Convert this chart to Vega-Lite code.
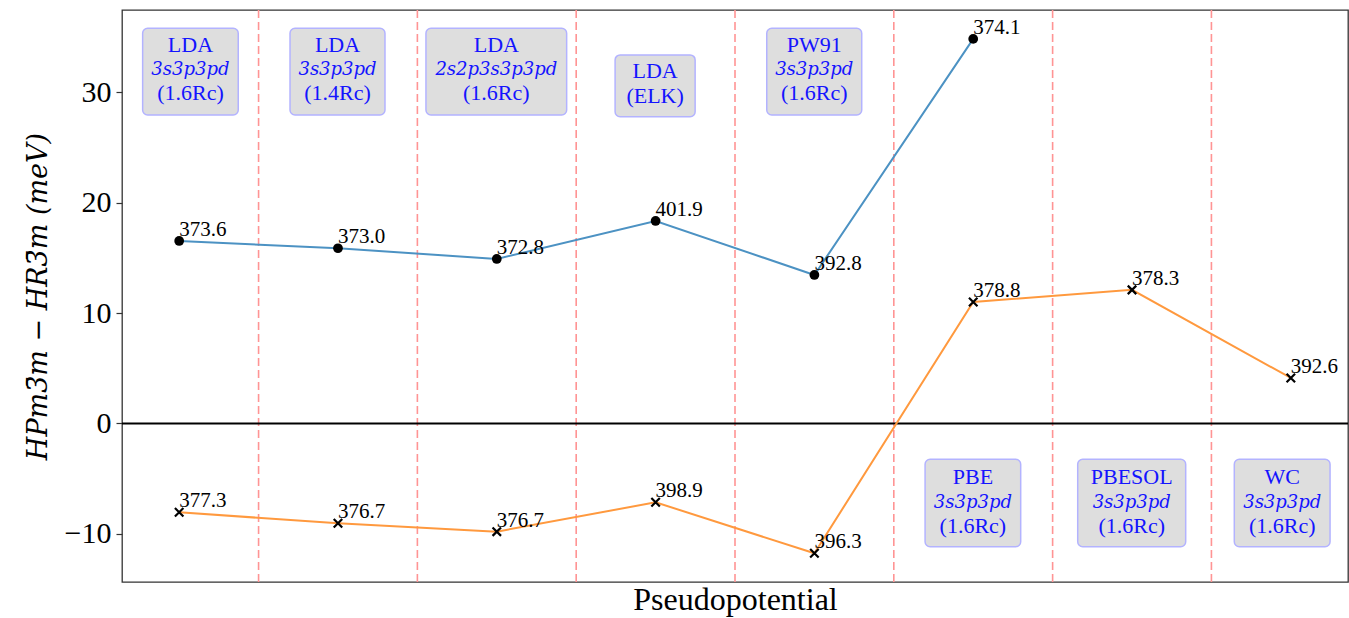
{
  "$schema": "https://vega.github.io/schema/vega-lite/v6.json",
  "width": 1226,
  "height": 572,
  "autosize": {"type": "none"},
  "padding": {"left": 122, "top": 10, "right": 1, "bottom": 36},
  "config": {
    "view": {"stroke": "#333333", "strokeWidth": 1.3},
    "font": "Liberation Serif",
    "axis": {"grid": false}
  },
  "datasets": {
    "pts": [
      {"i": 0, "series": "a", "dh": 16.53, "label": "373.6"},
      {"i": 1, "series": "a", "dh": 15.87, "label": "373.0"},
      {"i": 2, "series": "a", "dh": 14.9, "label": "372.8"},
      {"i": 3, "series": "a", "dh": 18.34, "label": "401.9"},
      {"i": 4, "series": "a", "dh": 13.45, "label": "392.8"},
      {"i": 5, "series": "a", "dh": 34.83, "label": "374.1"},
      {"i": 0, "series": "b", "dh": -8.05, "label": "377.3"},
      {"i": 1, "series": "b", "dh": -9.04, "label": "376.7"},
      {"i": 2, "series": "b", "dh": -9.8, "label": "376.7"},
      {"i": 3, "series": "b", "dh": -7.14, "label": "398.9"},
      {"i": 4, "series": "b", "dh": -11.76, "label": "396.3"},
      {"i": 5, "series": "b", "dh": 11.0, "label": "378.8"},
      {"i": 6, "series": "b", "dh": 12.1, "label": "378.3"},
      {"i": 7, "series": "b", "dh": 4.12, "label": "392.6"}
    ],
    "seps": [{"s": 0.5}, {"s": 1.5}, {"s": 2.5}, {"s": 3.5}, {"s": 4.5}, {"s": 5.5}, {"s": 6.5}],
    "boxes": [
      {"x1": -0.23, "x2": 0.372, "y1": 27.94, "y2": 35.8},
      {"x1": 0.698, "x2": 1.296, "y1": 27.94, "y2": 35.8},
      {"x1": 1.554, "x2": 2.44, "y1": 27.94, "y2": 35.8},
      {"x1": 2.745, "x2": 3.249, "y1": 27.79, "y2": 33.38},
      {"x1": 3.7, "x2": 4.298, "y1": 27.94, "y2": 35.8},
      {"x1": 4.697, "x2": 5.299, "y1": -11.16, "y2": -3.24},
      {"x1": 5.658, "x2": 6.338, "y1": -11.16, "y2": -3.24},
      {"x1": 6.644, "x2": 7.247, "y1": -11.16, "y2": -3.24}
    ],
    "btext": [
      {"x": 0.071, "y": 33.68, "t": "LDA", "it": false},
      {"x": 0.071, "y": 31.57, "t": "3s3p3pd", "it": true},
      {"x": 0.071, "y": 29.3, "t": "(1.6Rc)", "it": false},
      {"x": 0.997, "y": 33.68, "t": "LDA", "it": false},
      {"x": 0.997, "y": 31.57, "t": "3s3p3pd", "it": true},
      {"x": 0.997, "y": 29.3, "t": "(1.4Rc)", "it": false},
      {"x": 1.997, "y": 33.68, "t": "LDA", "it": false},
      {"x": 1.997, "y": 31.57, "t": "2s2p3s3p3pd", "it": true},
      {"x": 1.997, "y": 29.3, "t": "(1.6Rc)", "it": false},
      {"x": 2.997, "y": 31.27, "t": "LDA", "it": false},
      {"x": 2.997, "y": 29.03, "t": "(ELK)", "it": false},
      {"x": 3.999, "y": 33.68, "t": "PW91", "it": false},
      {"x": 3.999, "y": 31.57, "t": "3s3p3pd", "it": true},
      {"x": 3.999, "y": 29.3, "t": "(1.6Rc)", "it": false},
      {"x": 4.998, "y": -5.51, "t": "PBE", "it": false},
      {"x": 4.998, "y": -7.65, "t": "3s3p3pd", "it": true},
      {"x": 4.998, "y": -9.92, "t": "(1.6Rc)", "it": false},
      {"x": 5.998, "y": -5.51, "t": "PBESOL", "it": false},
      {"x": 5.998, "y": -7.65, "t": "3s3p3pd", "it": true},
      {"x": 5.998, "y": -9.92, "t": "(1.6Rc)", "it": false},
      {"x": 6.946, "y": -5.51, "t": "WC", "it": false},
      {"x": 6.946, "y": -7.65, "t": "3s3p3pd", "it": true},
      {"x": 6.946, "y": -9.92, "t": "(1.6Rc)", "it": false}
    ]
  },
  "layer": [
    {
      "data": {"name": "seps"},
      "mark": {"type": "rule", "color": "#ff9494", "strokeWidth": 1.6, "strokeDash": [8, 4]},
      "encoding": {
        "x": {
          "field": "s", "type": "quantitative",
          "scale": {"domain": [-0.36, 7.36], "nice": false, "zero": false},
          "axis": {
            "labels": false, "ticks": false, "domain": false, "grid": false,
            "title": "Pseudopotential", "titleFont": "Liberation Serif", "titleFontSize": 32,
            "titleFontWeight": "normal", "titleColor": "black", "titlePadding": 2
          }
        }
      }
    },
    {
      "data": {"values": [{"z": 0}]},
      "mark": {"type": "rule", "color": "black", "strokeWidth": 2},
      "encoding": {
        "y": {
          "field": "z", "type": "quantitative",
          "scale": {"domain": [-14.36, 37.45], "nice": false, "zero": false},
          "axis": {
            "values": [-10, 0, 10, 20, 30], "grid": false, "domain": false,
            "title": "HPm3̄m − HR3̄m (meV)", "titleFont": "DejaVu Serif", "titleFontSize": 27,
            "titleFontWeight": "normal", "titleFontStyle": "italic", "titleColor": "black", "titlePadding": 12,
            "labelFont": "Liberation Serif", "labelFontSize": 30, "labelColor": "black",
            "labelPadding": 5, "tickColor": "#333333", "tickSize": 6, "tickWidth": 1.2
          }
        }
      }
    },
    {
      "data": {"name": "pts"},
      "transform": [{"filter": "datum.series == 'a'"}],
      "mark": {"type": "line", "color": "#4c92c3", "strokeWidth": 2},
      "encoding": {
        "x": {"field": "i", "type": "quantitative", "scale": {"domain": [-0.36, 7.36], "nice": false, "zero": false}},
        "y": {"field": "dh", "type": "quantitative", "scale": {"domain": [-14.36, 37.45], "nice": false, "zero": false}}
      }
    },
    {
      "data": {"name": "pts"},
      "transform": [{"filter": "datum.series == 'b'"}],
      "mark": {"type": "line", "color": "#ff993e", "strokeWidth": 2},
      "encoding": {
        "x": {"field": "i", "type": "quantitative"},
        "y": {"field": "dh", "type": "quantitative"}
      }
    },
    {
      "data": {"name": "pts"},
      "transform": [{"filter": "datum.series == 'a'"}],
      "mark": {"type": "point", "shape": "circle", "filled": true, "color": "black", "opacity": 1, "size": 95},
      "encoding": {
        "x": {"field": "i", "type": "quantitative"},
        "y": {"field": "dh", "type": "quantitative"}
      }
    },
    {
      "data": {"name": "pts"},
      "transform": [{"filter": "datum.series == 'b'"}],
      "mark": {"type": "point", "shape": "M-1,-1L1,1M-1,1L1,-1", "filled": false, "color": "black", "opacity": 1, "strokeWidth": 2.2, "size": 72},
      "encoding": {
        "x": {"field": "i", "type": "quantitative"},
        "y": {"field": "dh", "type": "quantitative"}
      }
    },
    {
      "data": {"name": "pts"},
      "mark": {"type": "text", "align": "left", "baseline": "alphabetic", "dy": -5, "fontSize": 21, "font": "Liberation Serif", "color": "black"},
      "encoding": {
        "x": {"field": "i", "type": "quantitative"},
        "y": {"field": "dh", "type": "quantitative"},
        "text": {"field": "label", "type": "nominal"}
      }
    },
    {
      "data": {"name": "boxes"},
      "mark": {"type": "rect", "fill": "#dedede", "stroke": "#b3b3ff", "strokeWidth": 1.5, "cornerRadius": 5},
      "encoding": {
        "x": {"field": "x1", "type": "quantitative"},
        "x2": {"field": "x2"},
        "y": {"field": "y1", "type": "quantitative"},
        "y2": {"field": "y2"}
      }
    },
    {
      "data": {"name": "btext"},
      "transform": [{"filter": "!datum.it"}],
      "mark": {"type": "text", "align": "center", "baseline": "alphabetic", "fontSize": 22, "font": "Liberation Serif", "color": "#1414ff"},
      "encoding": {
        "x": {"field": "x", "type": "quantitative"},
        "y": {"field": "y", "type": "quantitative"},
        "text": {"field": "t", "type": "nominal"}
      }
    },
    {
      "data": {"name": "btext"},
      "transform": [{"filter": "datum.it"}],
      "mark": {"type": "text", "align": "center", "baseline": "alphabetic", "fontSize": 18, "fontStyle": "italic", "font": "DejaVu Serif", "color": "#1414ff"},
      "encoding": {
        "x": {"field": "x", "type": "quantitative"},
        "y": {"field": "y", "type": "quantitative"},
        "text": {"field": "t", "type": "nominal"}
      }
    }
  ]
}
